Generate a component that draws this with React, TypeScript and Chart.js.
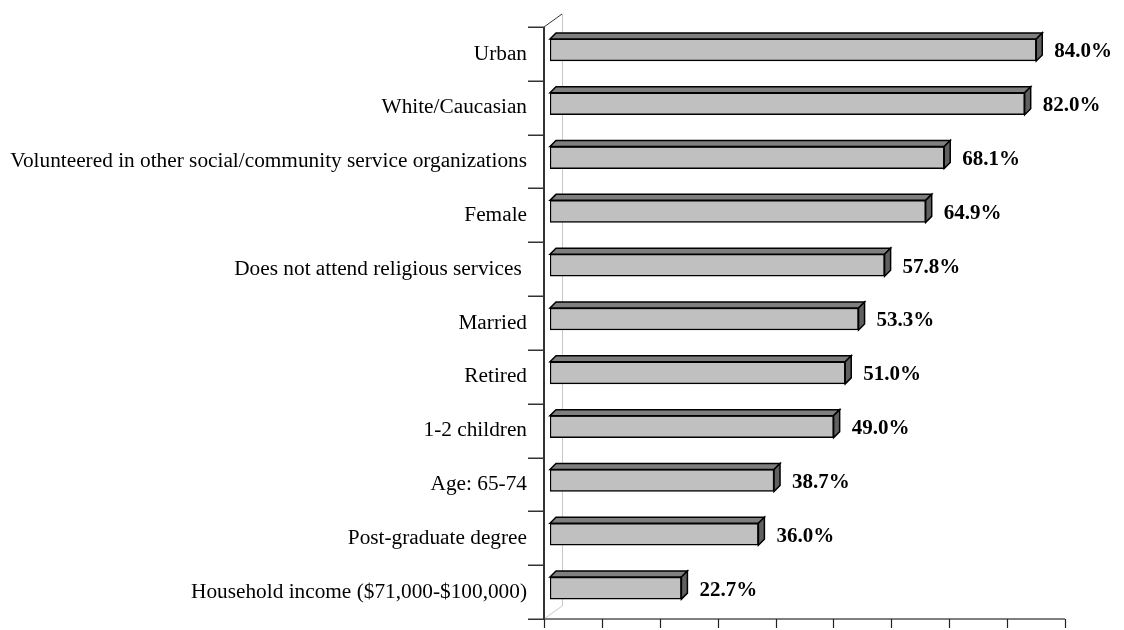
import React, { useEffect, useRef } from "react";
import { Chart, registerables } from "chart.js";

Chart.register(...registerables);

const categories: string[] = [
  "Urban",
  "White/Caucasian",
  "Volunteered in other social/community service organizations",
  "Female",
  "Does not attend religious services ",
  "Married",
  "Retired",
  "1-2 children",
  "Age: 65-74",
  "Post-graduate degree",
  "Household income ($71,000-$100,000)",
];

const values: number[] = [84.0, 82.0, 68.1, 64.9, 57.8, 53.3, 51.0, 49.0, 38.7, 36.0, 22.7];

const xTicks: number[] = [0, 10, 20, 30, 40, 50, 60, 70, 80, 90];

const FRONT_DX = -6;
const FRONT_DY = 4;
const BACK_DX = 12;
const BACK_DY = -9;
const BAR_D = 6;

const threeD = {
  id: "threeD",
  beforeDatasetsDraw(chart: any) {
    const ctx = chart.ctx;
    const area = chart.chartArea;
    const xs = chart.scales.x;
    ctx.save();
    // back wall edge
    ctx.strokeStyle = "#c8c8c8";
    ctx.lineWidth = 1;
    ctx.beginPath();
    ctx.moveTo(area.left + BACK_DX + 0.5, area.top + BACK_DY);
    ctx.lineTo(area.left + BACK_DX + 0.5, area.bottom + BACK_DY);
    ctx.stroke();
    ctx.beginPath();
    ctx.moveTo(area.left + FRONT_DX, area.bottom + FRONT_DY);
    ctx.lineTo(area.left + BACK_DX, area.bottom + BACK_DY);
    ctx.stroke();
    // top diagonal
    ctx.strokeStyle = "#333";
    ctx.lineWidth = 1;
    ctx.beginPath();
    ctx.moveTo(area.left + FRONT_DX, area.top + FRONT_DY);
    ctx.lineTo(area.left + BACK_DX, area.top + BACK_DY);
    ctx.stroke();
    // left axis (front plane)
    const lx = area.left + FRONT_DX;
    ctx.strokeStyle = "#333";
    ctx.lineWidth = 2;
    ctx.beginPath();
    ctx.moveTo(lx, area.top + FRONT_DY);
    ctx.lineTo(lx, area.bottom + FRONT_DY);
    ctx.stroke();
    // category boundary ticks
    ctx.lineWidth = 1.5;
    const n = categories.length;
    const band = (area.bottom - area.top) / n;
    for (let i = 0; i <= n; i++) {
      const y = Math.round(area.top + FRONT_DY + band * i) + 0.25;
      ctx.beginPath();
      ctx.moveTo(lx - 16, y);
      ctx.lineTo(lx, y);
      ctx.stroke();
    }
    // bottom axis
    const by = area.bottom + FRONT_DY;
    ctx.strokeStyle = "#555";
    ctx.lineWidth = 1.5;
    ctx.beginPath();
    ctx.moveTo(lx, by);
    ctx.lineTo(xs.getPixelForValue(xTicks[xTicks.length - 1]) + FRONT_DX, by);
    ctx.stroke();
    ctx.strokeStyle = "#222";
    ctx.lineWidth = 1.2;
    xTicks.forEach((t) => {
      const x = Math.round(xs.getPixelForValue(t) + FRONT_DX) + 0.5;
      ctx.beginPath();
      ctx.moveTo(x, by);
      ctx.lineTo(x, by + 9);
      ctx.stroke();
    });
    ctx.restore();
  },
  afterDatasetsDraw(chart: any) {
    const ctx = chart.ctx;
    const meta = chart.getDatasetMeta(0);
    ctx.save();
    meta.data.forEach((el: any, i: number) => {
      const x0 = el.base;
      const x1 = el.x;
      const y0 = el.y - el.height / 2;
      const y1 = el.y + el.height / 2;
      ctx.lineWidth = 1.5;
      ctx.strokeStyle = "#000";
      ctx.lineJoin = "miter";
      // top face
      ctx.fillStyle = "#7f7f7f";
      ctx.beginPath();
      ctx.moveTo(x0, y0);
      ctx.lineTo(x0 + BAR_D, y0 - BAR_D);
      ctx.lineTo(x1 + BAR_D, y0 - BAR_D);
      ctx.lineTo(x1, y0);
      ctx.closePath();
      ctx.fill();
      ctx.stroke();
      // side face
      ctx.fillStyle = "#606060";
      ctx.beginPath();
      ctx.moveTo(x1, y0);
      ctx.lineTo(x1 + BAR_D, y0 - BAR_D);
      ctx.lineTo(x1 + BAR_D, y1 - BAR_D);
      ctx.lineTo(x1, y1);
      ctx.closePath();
      ctx.fill();
      ctx.stroke();
      // value label
      ctx.fillStyle = "#000";
      ctx.font = "bold 21px 'Liberation Serif', 'Times New Roman', serif";
      ctx.textAlign = "left";
      ctx.textBaseline = "middle";
      ctx.fillText(values[i].toFixed(1) + "%", x1 + 18, el.y + 2);
    });
    ctx.restore();
  },
};

export default function App() {
  const ref = useRef<HTMLCanvasElement | null>(null);
  useEffect(() => {
    if (!ref.current) return;
    const chart = new Chart(ref.current, {
      type: "bar",
      data: {
        labels: categories,
        datasets: [
          {
            data: values,
            backgroundColor: "#c0c0c0",
            borderColor: "#000",
            borderWidth: 1.5,
            borderSkipped: false,
            barThickness: 22,
          },
        ],
      },
      options: {
        indexAxis: "y",
        animation: false,
        responsive: true,
        maintainAspectRatio: false,
        devicePixelRatio: 1,
        layout: { padding: { left: 0, right: 53, top: 23, bottom: 15 } },
        plugins: {
          legend: { display: false },
          tooltip: { enabled: false },
        },
        scales: {
          x: {
            display: false,
            min: 0,
            max: 90,
          },
          y: {
            afterFit: (s: any) => {
              s.width = 550;
              s.paddingTop = 0;
              s.paddingBottom = 0;
            },
            grid: { display: false, drawTicks: false },
            border: { display: false },
            ticks: {
              padding: 23,
              labelOffset: 4,
              color: "#000",
              font: { family: "'Liberation Serif', 'Times New Roman', serif", size: 21.3 },
              autoSkip: false,
            },
          },
        },
      },
      plugins: [threeD],
    });
    return () => chart.destroy();
  }, []);
  return (
    <div style={{ position: "absolute", left: 0, top: 0, width: 1124, height: 630, background: "#fff" }}>
      <canvas ref={ref} />
    </div>
  );
}
